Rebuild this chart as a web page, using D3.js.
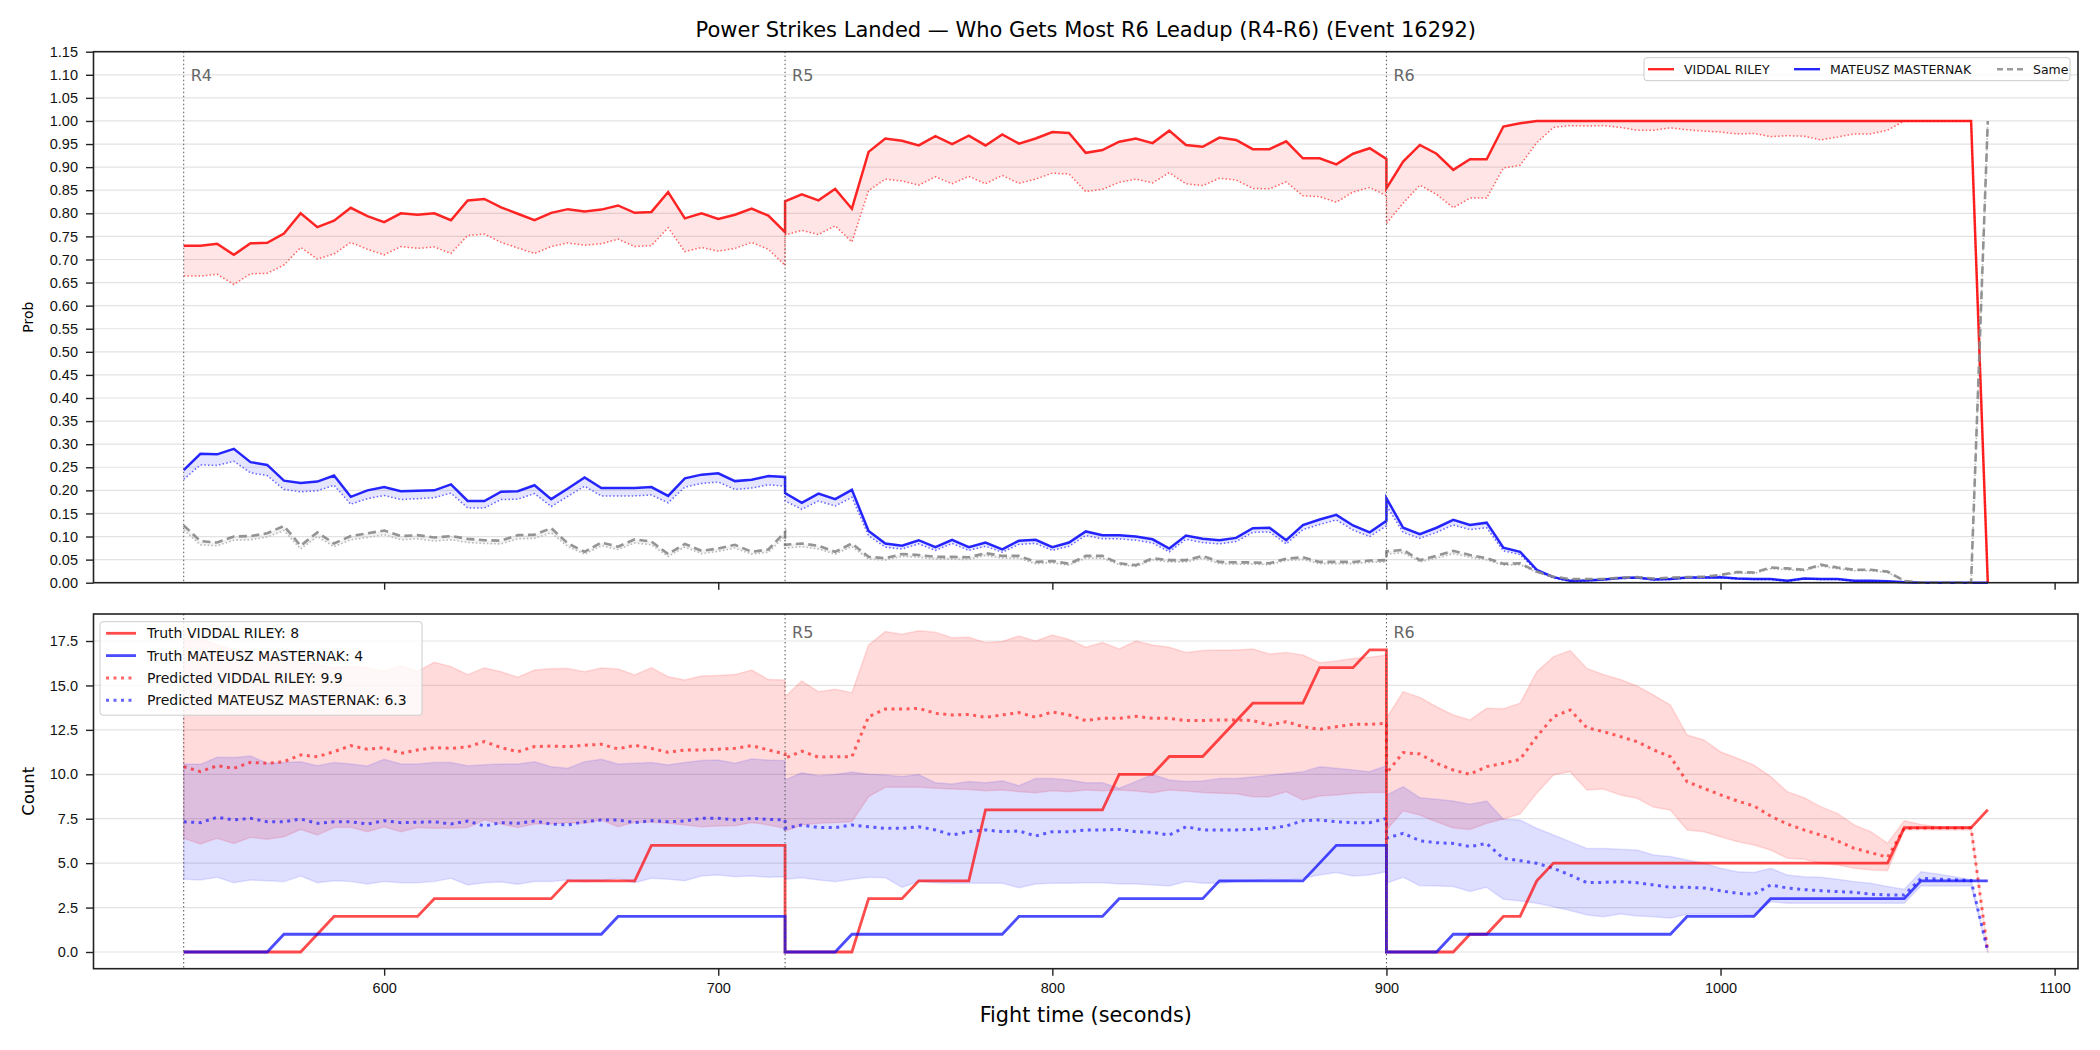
<!DOCTYPE html>
<html>
<head>
<meta charset="utf-8">
<script src="https://cdn.jsdelivr.net/npm/d3@7"></script>
<style>
  body { margin: 0; background: #fff; }
  svg { display: block; font-family: "DejaVu Sans", sans-serif; }
  .tick text { font-size: 14.5px; fill: #111; }
  .tick line { stroke: #222; stroke-width: 1.4; }
</style>
</head>
<body>
<script>
"use strict";

// time grid: each round sampled every 5 s, rounds share their boundary second
var times = [].concat(d3.range(540, 721, 5), d3.range(720, 901, 5), d3.range(900, 1081, 5));
var rounds = [{t: 540, label: 'R4'}, {t: 720, label: 'R5'}, {t: 900, label: 'R6'}];

// ---- top panel: win probabilities ----
var probRed = [
  0.730, 0.730, 0.734, 0.710, 0.735, 0.736, 0.756, 0.800, 0.770, 0.784, 0.812, 0.794, 0.781, 0.800, 0.797, 0.800, 0.785, 0.828, 0.831, 0.813, 0.799, 0.785, 0.801, 0.809, 0.804, 0.808, 0.817, 0.801, 0.803, 0.846, 0.789, 0.800, 0.788, 0.797, 0.810, 0.795, 0.759,
  0.826, 0.841, 0.828, 0.853, 0.810, 0.933, 0.962, 0.957, 0.947, 0.967, 0.950, 0.968, 0.947, 0.971, 0.951, 0.962, 0.976, 0.974, 0.931, 0.937, 0.955, 0.962, 0.952, 0.979, 0.948, 0.944, 0.964, 0.959, 0.939, 0.939, 0.956, 0.919, 0.919, 0.906, 0.929, 0.941, 0.918,
  0.854, 0.912, 0.948, 0.929, 0.894, 0.917, 0.917, 0.988, 0.995, 1.000, 1, 1, 1, 1, 1, 1, 1, 1, 1, 1, 1, 1, 1, 1, 1, 1, 1, 1, 1, 1, 1, 1, 1, 1, 1, 1, 0
];
var probRedLow = [
  0.664, 0.664, 0.668, 0.646, 0.669, 0.670, 0.688, 0.726, 0.701, 0.712, 0.737, 0.722, 0.710, 0.728, 0.724, 0.727, 0.713, 0.752, 0.755, 0.737, 0.725, 0.713, 0.728, 0.736, 0.731, 0.734, 0.744, 0.728, 0.730, 0.769, 0.717, 0.726, 0.718, 0.724, 0.737, 0.722, 0.687,
  0.753, 0.763, 0.754, 0.773, 0.738, 0.849, 0.874, 0.870, 0.861, 0.879, 0.864, 0.880, 0.864, 0.882, 0.865, 0.874, 0.887, 0.885, 0.847, 0.852, 0.867, 0.874, 0.866, 0.888, 0.864, 0.860, 0.876, 0.872, 0.854, 0.853, 0.868, 0.838, 0.836, 0.824, 0.846, 0.856, 0.838,
  0.778, 0.822, 0.861, 0.841, 0.812, 0.833, 0.833, 0.898, 0.904, 0.953, 0.986, 0.990, 0.989, 0.990, 0.986, 0.980, 0.980, 0.985, 0.981, 0.978, 0.976, 0.972, 0.973, 0.966, 0.968, 0.967, 0.959, 0.965, 0.972, 0.972, 0.980, 1, 1, 1, 1, 1, 0
];
var probBlue = [
  0.244, 0.279, 0.278, 0.290, 0.261, 0.255, 0.221, 0.216, 0.219, 0.232, 0.186, 0.200, 0.207, 0.198, 0.199, 0.200, 0.213, 0.177, 0.177, 0.197, 0.198, 0.211, 0.181, 0.204, 0.228, 0.205, 0.205, 0.205, 0.207, 0.188, 0.226, 0.234, 0.237, 0.220, 0.223, 0.231, 0.229,
  0.194, 0.173, 0.193, 0.181, 0.201, 0.112, 0.085, 0.080, 0.092, 0.077, 0.093, 0.077, 0.087, 0.072, 0.091, 0.093, 0.077, 0.087, 0.111, 0.103, 0.103, 0.100, 0.094, 0.074, 0.102, 0.095, 0.092, 0.097, 0.118, 0.119, 0.092, 0.125, 0.137, 0.147, 0.124, 0.109, 0.134,
  0.183, 0.119, 0.105, 0.119, 0.136, 0.125, 0.130, 0.076, 0.067, 0.028, 0.012, 0.004, 0.005, 0.007, 0.010, 0.011, 0.007, 0.008, 0.011, 0.011, 0.012, 0.009, 0.008, 0.008, 0.004, 0.009, 0.008, 0.008, 0.004, 0.004, 0.003, 0.001, 0, 0, 0, 0, 0
];
var probBlueLow = [
  0.224, 0.255, 0.254, 0.263, 0.238, 0.232, 0.202, 0.197, 0.199, 0.211, 0.170, 0.182, 0.189, 0.180, 0.182, 0.184, 0.194, 0.162, 0.162, 0.180, 0.181, 0.193, 0.165, 0.187, 0.209, 0.188, 0.188, 0.188, 0.190, 0.173, 0.207, 0.215, 0.218, 0.202, 0.205, 0.212, 0.209,
  0.177, 0.159, 0.177, 0.166, 0.185, 0.102, 0.077, 0.073, 0.084, 0.070, 0.085, 0.070, 0.079, 0.066, 0.083, 0.085, 0.070, 0.079, 0.102, 0.095, 0.095, 0.092, 0.086, 0.067, 0.094, 0.087, 0.084, 0.089, 0.109, 0.110, 0.084, 0.115, 0.126, 0.136, 0.114, 0.100, 0.123,
  0.167, 0.109, 0.096, 0.109, 0.125, 0.115, 0.119, 0.069, 0.061, 0.025, 0.010, 0.003, 0.004, 0.006, 0.009, 0.010, 0.006, 0.007, 0.010, 0.010, 0.011, 0.008, 0.007, 0.007, 0.003, 0.008, 0.007, 0.007, 0.003, 0.003, 0.002, 0.001, 0, 0, 0, 0, 0
];
var probSame = [
  0.124, 0.090, 0.087, 0.100, 0.101, 0.107, 0.123, 0.080, 0.109, 0.085, 0.101, 0.107, 0.113, 0.101, 0.103, 0.098, 0.101, 0.095, 0.092, 0.091, 0.103, 0.104, 0.118, 0.085, 0.067, 0.087, 0.078, 0.094, 0.089, 0.062, 0.084, 0.069, 0.074, 0.082, 0.067, 0.072, 0.110,
  0.082, 0.085, 0.080, 0.067, 0.085, 0.056, 0.053, 0.062, 0.060, 0.056, 0.056, 0.055, 0.064, 0.058, 0.058, 0.045, 0.047, 0.041, 0.058, 0.058, 0.042, 0.038, 0.053, 0.049, 0.049, 0.058, 0.045, 0.044, 0.044, 0.042, 0.052, 0.055, 0.045, 0.045, 0.045, 0.048, 0.049,
  0.068, 0.071, 0.049, 0.058, 0.069, 0.060, 0.053, 0.041, 0.042, 0.024, 0.013, 0.008, 0.008, 0.008, 0.011, 0.012, 0.009, 0.011, 0.012, 0.013, 0.017, 0.023, 0.022, 0.033, 0.031, 0.028, 0.039, 0.033, 0.028, 0.028, 0.024, 0.004, 0, 0, 0, 0, 1.0
];
var probSameLow = [
  0.114, 0.082, 0.080, 0.092, 0.093, 0.099, 0.113, 0.073, 0.100, 0.078, 0.093, 0.098, 0.104, 0.093, 0.095, 0.090, 0.093, 0.087, 0.085, 0.084, 0.095, 0.096, 0.108, 0.078, 0.062, 0.080, 0.072, 0.086, 0.082, 0.057, 0.077, 0.063, 0.068, 0.075, 0.062, 0.066, 0.101,
  0.075, 0.078, 0.073, 0.062, 0.078, 0.051, 0.049, 0.057, 0.055, 0.051, 0.051, 0.050, 0.059, 0.053, 0.053, 0.041, 0.043, 0.038, 0.053, 0.053, 0.039, 0.035, 0.049, 0.045, 0.045, 0.053, 0.041, 0.040, 0.040, 0.039, 0.048, 0.050, 0.041, 0.041, 0.041, 0.044, 0.045,
  0.062, 0.065, 0.045, 0.053, 0.063, 0.055, 0.049, 0.038, 0.039, 0.022, 0.012, 0.007, 0.007, 0.007, 0.010, 0.011, 0.008, 0.010, 0.011, 0.012, 0.016, 0.021, 0.020, 0.030, 0.028, 0.026, 0.036, 0.030, 0.026, 0.026, 0.022, 0.004, 0, 0, 0, 0, 1.0
];

// ---- bottom panel: counts ----
var truthRed = [
  0, 0, 0, 0, 0, 0, 0, 0, 1, 2, 2, 2, 2, 2, 2, 3, 3, 3, 3, 3, 3, 3, 3, 4, 4, 4, 4, 4, 6, 6, 6, 6, 6, 6, 6, 6, 6,
  0, 0, 0, 0, 0, 3, 3, 3, 4, 4, 4, 4, 8, 8, 8, 8, 8, 8, 8, 8, 10, 10, 10, 11, 11, 11, 12, 13, 14, 14, 14, 14, 16, 16, 16, 17, 17,
  0, 0, 0, 0, 0, 1, 1, 2, 2, 4, 5, 5, 5, 5, 5, 5, 5, 5, 5, 5, 5, 5, 5, 5, 5, 5, 5, 5, 5, 5, 5, 7, 7, 7, 7, 7, 8
];
var truthBlue = [
  0, 0, 0, 0, 0, 0, 1, 1, 1, 1, 1, 1, 1, 1, 1, 1, 1, 1, 1, 1, 1, 1, 1, 1, 1, 1, 2, 2, 2, 2, 2, 2, 2, 2, 2, 2, 2,
  0, 0, 0, 0, 1, 1, 1, 1, 1, 1, 1, 1, 1, 1, 2, 2, 2, 2, 2, 2, 3, 3, 3, 3, 3, 3, 4, 4, 4, 4, 4, 4, 5, 6, 6, 6, 6,
  0, 0, 0, 0, 1, 1, 1, 1, 1, 1, 1, 1, 1, 1, 1, 1, 1, 1, 2, 2, 2, 2, 2, 3, 3, 3, 3, 3, 3, 3, 3, 3, 4, 4, 4, 4, 4
];
var predRed = [
  10.43, 10.15, 10.48, 10.34, 10.67, 10.62, 10.71, 11.09, 10.99, 11.27, 11.61, 11.41, 11.50, 11.18, 11.37, 11.50, 11.46, 11.54, 11.84, 11.50, 11.27, 11.56, 11.59, 11.56, 11.63, 11.69, 11.43, 11.63, 11.46, 11.24, 11.37, 11.37, 11.41, 11.46, 11.61, 11.37, 11.14,
  10.90, 11.30, 10.96, 10.99, 10.99, 13.24, 13.67, 13.67, 13.71, 13.43, 13.34, 13.37, 13.21, 13.34, 13.47, 13.21, 13.51, 13.34, 13.02, 13.15, 13.15, 13.26, 13.15, 13.15, 13.02, 13.02, 13.06, 13.06, 13.02, 12.77, 12.96, 12.68, 12.53, 12.68, 12.81, 12.81, 12.87,
  10.06, 11.22, 11.14, 10.62, 10.24, 10.00, 10.43, 10.62, 10.84, 12.12, 13.24, 13.62, 12.62, 12.40, 12.12, 11.84, 11.37, 10.99, 9.58, 9.21, 8.84, 8.50, 8.22, 7.65, 7.20, 6.87, 6.58, 6.26, 5.83, 5.59, 5.33, 6.96, 6.98, 6.98, 6.98, 6.98, 0.02
];
var predBlue = [
  7.33, 7.28, 7.58, 7.43, 7.52, 7.33, 7.33, 7.48, 7.24, 7.33, 7.33, 7.20, 7.39, 7.28, 7.30, 7.33, 7.20, 7.37, 7.09, 7.28, 7.24, 7.37, 7.20, 7.15, 7.33, 7.43, 7.43, 7.28, 7.39, 7.33, 7.37, 7.52, 7.52, 7.43, 7.52, 7.46, 7.43,
  6.96, 7.15, 7.00, 7.00, 7.15, 7.05, 6.96, 6.96, 7.05, 6.87, 6.58, 6.77, 6.87, 6.77, 6.81, 6.53, 6.77, 6.77, 6.87, 6.87, 6.90, 6.77, 6.73, 6.58, 7.05, 6.87, 6.87, 6.87, 6.90, 6.96, 7.09, 7.39, 7.43, 7.33, 7.28, 7.28, 7.52,
  6.40, 6.68, 6.26, 6.15, 6.11, 5.93, 6.11, 5.27, 5.14, 4.99, 4.71, 4.33, 3.90, 3.92, 3.96, 3.90, 3.77, 3.64, 3.64, 3.60, 3.45, 3.30, 3.25, 3.77, 3.60, 3.51, 3.45, 3.40, 3.36, 3.25, 3.21, 3.21, 4.15, 4.10, 4.06, 4.03, 0.02
];
var redHigh = [
  18.1, 17.6, 17.3, 17.0, 16.9, 16.7, 16.5, 16.3, 16.2, 16.0, 16.1, 16.0, 15.8, 16.1, 15.8, 16.3, 16.06, 15.6, 16.0, 15.77, 15.46, 15.87, 15.94, 15.96, 15.77, 15.98, 15.92, 15.59, 16.00, 15.49, 15.31, 15.53, 15.56, 15.61, 15.87, 15.33, 15.31,
  14.37, 15.25, 14.65, 14.78, 14.59, 17.28, 18.03, 17.88, 18.08, 18.00, 17.69, 17.71, 17.41, 17.47, 17.78, 17.50, 17.84, 17.59, 17.15, 17.41, 17.05, 17.50, 17.28, 17.15, 16.86, 16.96, 16.99, 16.99, 17.05, 16.77, 16.86, 16.71, 16.28, 16.37, 16.52, 16.58, 16.71,
  13.15, 14.65, 14.33, 13.80, 13.34, 13.06, 13.71, 13.69, 14.00, 15.77, 16.62, 16.96, 15.96, 15.61, 15.33, 14.97, 14.46, 13.90, 12.21, 11.93, 11.27, 10.90, 10.52, 9.87, 9.02, 8.68, 8.18, 7.80, 7.15, 6.77, 6.12, 7.39, 7.18, 7.05, 7.05, 7.05, 0.02
];
var redLow = [
  6.40, 6.08, 6.40, 6.11, 6.46, 6.34, 6.49, 6.90, 6.58, 7.00, 7.02, 6.77, 7.05, 6.77, 7.00, 6.96, 6.96, 7.00, 7.43, 7.20, 7.00, 7.20, 7.20, 7.28, 7.24, 7.43, 7.05, 7.30, 7.30, 7.24, 7.15, 7.05, 7.09, 7.11, 7.28, 7.15, 6.96,
  6.80, 7.15, 7.24, 7.28, 7.33, 8.74, 9.27, 9.27, 9.27, 9.21, 9.17, 9.15, 9.08, 9.11, 9.02, 8.96, 9.08, 9.02, 9.11, 9.08, 9.11, 9.06, 8.96, 9.11, 9.06, 8.98, 8.93, 8.90, 8.74, 8.74, 9.02, 8.55, 8.78, 8.83, 8.93, 8.98, 8.98,
  6.87, 7.95, 7.71, 7.33, 6.98, 6.90, 7.24, 7.48, 7.77, 8.93, 9.96, 10.15, 9.12, 9.17, 8.83, 8.65, 8.14, 7.99, 6.87, 6.77, 6.49, 6.21, 6.02, 5.74, 5.27, 5.22, 4.99, 4.90, 4.71, 4.62, 4.58, 6.87, 6.90, 6.87, 6.87, 6.87, -0.03
];
var blueHigh = [
  10.58, 10.56, 10.96, 10.94, 11.03, 10.62, 10.67, 10.71, 10.48, 10.67, 10.58, 10.47, 10.84, 10.58, 10.58, 10.66, 10.66, 10.48, 10.54, 10.58, 10.58, 10.71, 10.43, 10.34, 10.71, 10.84, 10.58, 10.62, 10.66, 10.53, 10.67, 10.77, 10.80, 10.62, 10.86, 10.80, 10.77,
  9.68, 10.09, 9.92, 9.99, 10.13, 10.00, 9.96, 9.87, 9.99, 9.53, 9.46, 9.60, 9.53, 9.64, 9.36, 9.77, 9.77, 9.68, 9.53, 9.53, 9.21, 9.60, 9.99, 9.68, 9.60, 9.62, 9.77, 9.77, 9.85, 9.95, 10.05, 10.15, 10.43, 10.34, 10.24, 10.15, 10.49,
  8.84, 9.30, 8.68, 8.59, 8.50, 8.31, 8.50, 7.47, 7.43, 6.96, 6.58, 6.21, 5.83, 5.83, 5.78, 5.74, 5.46, 5.37, 5.18, 4.99, 4.71, 4.52, 4.47, 4.71, 4.33, 4.24, 4.20, 4.10, 3.96, 3.87, 3.68, 3.53, 4.52, 4.39, 4.24, 4.06, 0.02
];
var blueLow = [
  4.09, 4.05, 4.20, 3.90, 4.05, 4.01, 3.96, 4.28, 3.90, 4.01, 3.96, 3.83, 3.96, 3.90, 3.90, 3.96, 4.15, 3.77, 3.90, 3.94, 3.81, 3.96, 3.96, 4.05, 3.96, 4.01, 4.15, 3.90, 4.15, 4.09, 4.01, 4.28, 4.33, 4.24, 4.28, 4.20, 4.24,
  4.09, 4.18, 4.05, 3.96, 4.09, 4.20, 4.18, 3.64, 3.96, 3.90, 3.87, 3.87, 3.87, 3.87, 3.62, 3.83, 3.87, 3.87, 3.90, 3.90, 3.83, 3.83, 3.77, 3.71, 3.96, 3.87, 3.87, 3.96, 4.01, 4.09, 4.05, 4.15, 4.33, 4.47, 4.28, 4.33, 4.52,
  3.87, 4.20, 3.73, 3.71, 3.68, 3.40, 3.64, 2.97, 2.87, 2.74, 2.55, 2.33, 2.08, 1.99, 2.14, 2.03, 1.99, 1.90, 2.12, 2.12, 2.12, 2.12, 2.08, 2.83, 2.74, 2.74, 2.74, 2.74, 2.74, 2.74, 2.74, 2.74, 3.71, 3.71, 3.71, 3.71, -0.03
];

// tick values
var xTicks = [600, 700, 800, 900, 1000, 1100];
var probTicks = d3.range(0, 23.5).map(function(i) { return i * 0.05; });
var countTicks = [0, 2.5, 5, 7.5, 10, 12.5, 15, 17.5];

var fighterA = 'VIDDAL RILEY', fighterB = 'MATEUSZ MASTERNAK';
var truthA = 8, truthB = 4, predA = 9.9, predB = 6.3;

var width = 2100, height = 1050,
  left = 93.5, right = 2078,
  top1 = [51.7, 582.7],
  top2 = [614, 968.7];

var svg = d3.select('body').append('svg')
  .attr('width', width)
  .attr('height', height);

var x = d3.scaleLinear().domain([513, 1107]).range([left, right]);
var yProb = d3.scaleLinear().domain([0, 1.15]).range([top1[1], top1[0]]);
var yCount = d3.scaleLinear().domain([-0.94, 19.02]).range([top2[1], top2[0]]);

function lineOf(values, y) {
  return d3.line().x(function(d, i) { return x(times[i]); }).y(function(d) { return y(d); })(values);
}
function areaOf(lo, hi, y) {
  return d3.area()
    .x(function(d, i) { return x(times[i]); })
    .y0(function(d, i) { return y(lo[i]); })
    .y1(function(d, i) { return y(hi[i]); })(times);
}

function panel(y, ticks, fmt, range, ylabel, labelSize) {
  var g = svg.append('g');
  // grid
  g.append('g').selectAll('line').data(ticks).enter().append('line')
    .attr('x1', left).attr('x2', right)
    .attr('y1', function(d) { return y(d); }).attr('y2', function(d) { return y(d); })
    .attr('stroke', '#e3e3e3').attr('stroke-width', 1.2);

  var ax = g.append('g').attr('transform', `translate(${left},0)`)
    .call(d3.axisLeft(y).tickValues(ticks).tickFormat(fmt).tickSize(7.5).tickPadding(8));
  ax.select('.domain').remove();

  var bx = g.append('g').attr('transform', `translate(0,${range[1]})`)
    .call(d3.axisBottom(x).tickValues(xTicks).tickFormat(d3.format('d')).tickSize(7).tickPadding(7));
  bx.select('.domain').remove();

  svg.append('text')
    .attr('transform', `translate(${28},${(range[0] + range[1]) / 2}) rotate(-90)`)
    .attr('text-anchor', 'middle')
    .attr('dy', '0.35em')
    .style('font-size', labelSize + 'px')
    .text(ylabel);
  return {g: g, bx: bx};
}

// ---------------- top panel ----------------
var p1 = panel(yProb, probTicks, d3.format('.2f'), top1, 'Prob', 14);
p1.bx.selectAll('text').remove();

var plot1 = svg.append('g');

plot1.append('path').attr('d', areaOf(probRedLow, probRed, yProb))
  .attr('fill', '#ff0000').attr('fill-opacity', 0.1);
plot1.append('path').attr('d', areaOf(probBlueLow, probBlue, yProb))
  .attr('fill', '#0000ff').attr('fill-opacity', 0.1);
plot1.append('path').attr('d', areaOf(probSameLow, probSame, yProb))
  .attr('fill', '#808080').attr('fill-opacity', 0.1);

plot1.append('path').attr('d', lineOf(probRedLow, yProb))
  .attr('fill', 'none').attr('stroke', '#ff3333').attr('stroke-opacity', 0.75)
  .attr('stroke-width', 1.5).attr('stroke-dasharray', '1.5,2.2');
plot1.append('path').attr('d', lineOf(probBlueLow, yProb))
  .attr('fill', 'none').attr('stroke', '#3333ff').attr('stroke-opacity', 0.75)
  .attr('stroke-width', 1.5).attr('stroke-dasharray', '1.5,2.2');
plot1.append('path').attr('d', lineOf(probSameLow, yProb))
  .attr('fill', 'none').attr('stroke', '#b8b8b8')
  .attr('stroke-width', 1.6).attr('stroke-dasharray', '1.5,2.2');

plot1.append('path').attr('d', lineOf(probRed, yProb))
  .attr('fill', 'none').attr('stroke', '#ff0000').attr('stroke-opacity', 0.85)
  .attr('stroke-width', 2.5);
plot1.append('path').attr('d', lineOf(probBlue, yProb))
  .attr('fill', 'none').attr('stroke', '#0000ff').attr('stroke-opacity', 0.85)
  .attr('stroke-width', 2.5);
plot1.append('path').attr('d', lineOf(probSame, yProb))
  .attr('fill', 'none').attr('stroke', '#8a8a8a').attr('stroke-opacity', 0.9)
  .attr('stroke-width', 2.6).attr('stroke-dasharray', '8,4.5');

// round markers
rounds.forEach(function(r) {
  plot1.append('line')
    .attr('x1', x(r.t)).attr('x2', x(r.t))
    .attr('y1', top1[0]).attr('y2', top1[1])
    .attr('stroke', '#555').attr('stroke-width', 1).attr('stroke-dasharray', '1.5,2.5');
  plot1.append('text')
    .attr('x', x(r.t) + 7).attr('y', 81)
    .style('font-size', '16px').attr('fill', '#666')
    .text(r.label);
});

svg.append('rect')
  .attr('x', left).attr('y', top1[0])
  .attr('width', right - left).attr('height', top1[1] - top1[0])
  .attr('fill', 'none').attr('stroke', '#222').attr('stroke-width', 1.6);

// top legend
var leg1 = svg.append('g');
leg1.append('rect')
  .attr('x', 1644).attr('y', 57.7).attr('width', 426).attr('height', 23)
  .attr('rx', 3).attr('fill', '#fff').attr('fill-opacity', 0.8)
  .attr('stroke', '#cccccc').attr('stroke-width', 1);
var leg1Items = [
  {label: fighterA, color: '#ff0000', dash: null, x: 1648},
  {label: fighterB, color: '#0000ff', dash: null, x: 1794},
  {label: 'Same', color: '#8a8a8a', dash: '6,4', x: 1997}
];
leg1Items.forEach(function(d) {
  leg1.append('line')
    .attr('x1', d.x).attr('x2', d.x + 26).attr('y1', 69.2).attr('y2', 69.2)
    .attr('stroke', d.color).attr('stroke-opacity', 0.85).attr('stroke-width', 2.4)
    .attr('stroke-dasharray', d.dash);
  leg1.append('text')
    .attr('x', d.x + 36).attr('y', 69.2).attr('dy', '0.35em')
    .style('font-size', '12.5px').attr('fill', '#111')
    .text(d.label);
});

// title
svg.append('text')
  .attr('x', (left + right) / 2).attr('y', 37)
  .attr('text-anchor', 'middle')
  .style('font-size', '21px')
  .text('Power Strikes Landed \u2014 Who Gets Most R6 Leadup (R4-R6) (Event 16292)');

// ---------------- bottom panel ----------------
var p2 = panel(yCount, countTicks, d3.format('.1f'), top2, 'Count', 16.5);

var plot2 = svg.append('g');

plot2.append('path').attr('d', areaOf(redLow, redHigh, yCount))
  .attr('fill', '#ff0000').attr('fill-opacity', 0.14)
  .attr('stroke', '#ff0000').attr('stroke-opacity', 0.12).attr('stroke-width', 1.5);
plot2.append('path').attr('d', areaOf(blueLow, blueHigh, yCount))
  .attr('fill', '#0000ff').attr('fill-opacity', 0.13)
  .attr('stroke', '#0000ff').attr('stroke-opacity', 0.1).attr('stroke-width', 1.5);

plot2.append('path').attr('d', lineOf(predRed, yCount))
  .attr('fill', 'none').attr('stroke', '#ff0000').attr('stroke-opacity', 0.6)
  .attr('stroke-width', 3).attr('stroke-dasharray', '3,4.5');
plot2.append('path').attr('d', lineOf(predBlue, yCount))
  .attr('fill', 'none').attr('stroke', '#0000ff').attr('stroke-opacity', 0.6)
  .attr('stroke-width', 3).attr('stroke-dasharray', '3,4.5');

plot2.append('path').attr('d', lineOf(truthRed, yCount))
  .attr('fill', 'none').attr('stroke', '#ff0000').attr('stroke-opacity', 0.7)
  .attr('stroke-width', 2.8);
plot2.append('path').attr('d', lineOf(truthBlue, yCount))
  .attr('fill', 'none').attr('stroke', '#0000ff').attr('stroke-opacity', 0.7)
  .attr('stroke-width', 2.8);

rounds.forEach(function(r) {
  plot2.append('line')
    .attr('x1', x(r.t)).attr('x2', x(r.t))
    .attr('y1', top2[0]).attr('y2', top2[1])
    .attr('stroke', '#555').attr('stroke-width', 1).attr('stroke-dasharray', '1.5,2.5');
  if (r.label !== 'R4') {
    plot2.append('text')
      .attr('x', x(r.t) + 7).attr('y', 638)
      .style('font-size', '16px').attr('fill', '#666')
      .text(r.label);
  }
});

svg.append('rect')
  .attr('x', left).attr('y', top2[0])
  .attr('width', right - left).attr('height', top2[1] - top2[0])
  .attr('fill', 'none').attr('stroke', '#222').attr('stroke-width', 1.6);

// bottom legend
var leg2 = svg.append('g');
leg2.append('rect')
  .attr('x', 100).attr('y', 621.7).attr('width', 322).attr('height', 93.5)
  .attr('rx', 3).attr('fill', '#fff').attr('fill-opacity', 0.8)
  .attr('stroke', '#cccccc').attr('stroke-width', 1);
var leg2Items = [
  {label: 'Truth ' + fighterA + ': ' + truthA, color: '#ff0000', dash: null, w: 2.8, op: 0.7},
  {label: 'Truth ' + fighterB + ': ' + truthB, color: '#0000ff', dash: null, w: 2.8, op: 0.7},
  {label: 'Predicted ' + fighterA + ': ' + predA, color: '#ff0000', dash: '3,4.5', w: 3, op: 0.6},
  {label: 'Predicted ' + fighterB + ': ' + predB, color: '#0000ff', dash: '3,4.5', w: 3, op: 0.6}
];
leg2Items.forEach(function(d, i) {
  var yy = 633.3 + i * 22.3;
  leg2.append('line')
    .attr('x1', 106).attr('x2', 136).attr('y1', yy).attr('y2', yy)
    .attr('stroke', d.color).attr('stroke-opacity', d.op).attr('stroke-width', d.w)
    .attr('stroke-dasharray', d.dash);
  leg2.append('text')
    .attr('x', 147).attr('y', yy).attr('dy', '0.35em')
    .style('font-size', '14px').attr('fill', '#111')
    .text(d.label);
});

svg.append('text')
  .attr('x', (left + right) / 2).attr('y', 1022)
  .attr('text-anchor', 'middle')
  .style('font-size', '20.8px')
  .text('Fight time (seconds)');
</script>
</body>
</html>
